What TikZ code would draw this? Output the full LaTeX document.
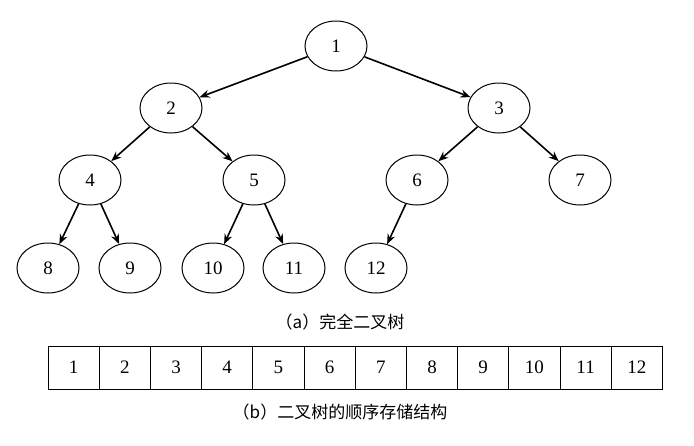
\documentclass[tikz,border=0pt]{standalone}
\usepackage{fontspec}
\setmainfont{Liberation Serif}
\newfontfamily\cjk{Noto Sans CJK SC}
\usetikzlibrary{shapes.geometric,arrows.meta}
\begin{document}
\begin{tikzpicture}[x=1pt,y=-1pt,
  tn/.style={ellipse,draw,line width=1pt,minimum width=62pt,minimum height=50pt,inner sep=0pt,font=\fontsize{19}{19}\selectfont},
  ar/.style={-{Stealth[length=10pt,width=8pt]},line width=1.6pt},
  cell/.style={draw,line width=0.9pt,minimum width=51.2pt,minimum height=43pt,inner sep=0pt,font=\fontsize{19}{19}\selectfont},
  captext/.style={font=\fontsize{17}{17}\selectfont\cjk}]
\useasboundingbox (0,0) rectangle (694,445);
\node[tn] (n1) at (336,46) {1};
\node[tn] (n2) at (171,108) {2};
\node[tn] (n3) at (499,108) {3};
\node[tn] (n4) at (90,180) {4};
\node[tn] (n5) at (254,180) {5};
\node[tn] (n6) at (417,180) {6};
\node[tn] (n7) at (580,180) {7};
\node[tn] (n8) at (48,268) {8};
\node[tn] (n9) at (130,268) {9};
\node[tn] (n10) at (213,268) {10};
\node[tn] (n11) at (294,268) {11};
\node[tn] (n12) at (376,268) {12};
\draw[ar] (n1) -- (n2); \draw[ar] (n1) -- (n3);
\draw[ar] (n2) -- (n4); \draw[ar] (n2) -- (n5);
\draw[ar] (n3) -- (n6); \draw[ar] (n3) -- (n7);
\draw[ar] (n4) -- (n8); \draw[ar] (n4) -- (n9);
\draw[ar] (n5) -- (n10); \draw[ar] (n5) -- (n11);
\draw[ar] (n6) -- (n12);
\node[captext] (ca) at (340,322) {（a）完全二叉树};
\foreach \i in {1,...,12} {
  \node[cell] (c\i) at ({48+51.2*(\i-0.5)},367.5) {\i};
}
\node[captext] (cb) at (340,412) {（b）二叉树的顺序存储结构};
\end{tikzpicture}
\end{document}
